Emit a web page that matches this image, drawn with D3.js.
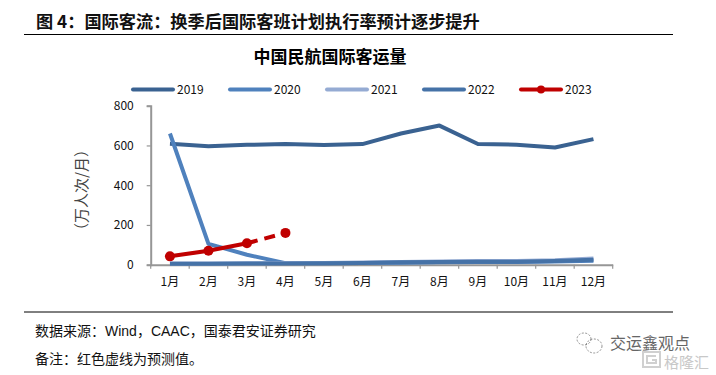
<!DOCTYPE html>
<html>
<head>
<meta charset="utf-8">
<script src="https://cdn.jsdelivr.net/npm/d3@7"></script>
<style>
html, body { margin: 0; padding: 0; background: #fff; }
text { font-family: "Noto Sans CJK SC", sans-serif; }
</style>
</head>
<body>
<div id="chart"></div>
<script>
months = ["1月","2月","3月","4月","5月","6月","7月","8月","9月","10月","11月","12月"]
yTicks = [0, 200, 400, 600, 800]
years = ["2019","2020","2021","2022","2023"]
colors = ["#3a6291","#4f81bd","#95abd3","#4572a7","#c00000"]

v2019 = [608,596,603,607,602,607,660,700,607,604,590,632]
v2020 = [660,105,50,8,7,8,10,12,14,14,16,20]
v2021 = [6,6,7,8,9,11,14,16,18,18,22,31]
v2022 = [5,5,6,6,7,9,12,14,15,15,18,25]
v2023 = [42,70,108]
v2023Forecast = [108,160]

margin = {top: 105.7, left: 150.7}
width = 462
height = 159

svg = d3.select("#chart")
  .append("svg")
  .attr("width", 716)
  .attr("height", 375)
  .style("display", "block")

// header and rules
svg.append("text").attr("x", 36).attr("y", 28)
  .style("font-size", "17.2px").style("font-weight", "700").attr("fill", "#111")
  .text("图 4：国际客流：换季后国际客班计划执行率预计逐步提升")
svg.append("line").attr("x1", 24).attr("x2", 673).attr("y1", 34.5).attr("y2", 34.5)
  .attr("stroke", "#000").attr("stroke-width", 1)
svg.append("text").attr("x", 330).attr("y", 63).attr("text-anchor", "middle")
  .style("font-size", "17px").style("font-weight", "700").attr("fill", "#000")
  .text("中国民航国际客运量")

g = svg.append("g").attr("transform", `translate(${margin.left}, ${margin.top})`)

x = d3.scaleBand().domain(months).range([0, width])
y = d3.scaleLinear().domain([0, 800]).range([height, 0])

xAxis = g.append("g").attr("transform", `translate(0, ${height})`)
  .call(d3.axisBottom(x).tickSizeInner(0).tickSizeOuter(0).tickPadding(13))
xAxis.select(".domain").attr("stroke", "#969696").attr("stroke-width", 2)
xAxis.selectAll("text").style("font-size", "12px").attr("fill", "#111")
// tick marks sit on the band edges
g.append("g").selectAll("line")
  .data(months.concat(["end"]))
  .join("line")
  .attr("x1", (d, i) => i * x.bandwidth())
  .attr("x2", (d, i) => i * x.bandwidth())
  .attr("y1", height)
  .attr("y2", height + 4)
  .attr("stroke", "#969696")
  .attr("stroke-width", 1.2)

yAxis = g.append("g")
  .call(d3.axisLeft(y).tickValues(yTicks).tickSize(4).tickPadding(13))
yAxis.select(".domain").attr("stroke", "#969696").attr("stroke-width", 2)
yAxis.selectAll("line").attr("stroke", "#969696").attr("stroke-width", 1.2)
yAxis.selectAll("text").style("font-size", "12px").attr("fill", "#111")

svg.append("text")
  .attr("transform", "translate(87, 190) rotate(-90)")
  .attr("text-anchor", "middle")
  .style("font-size", "15px").attr("fill", "#444")
  .text("（万人次/月）")

line = d3.line()
  .x((d, i) => x(months[i]) + x.bandwidth() / 2)
  .y(d => y(d))

allSeries = [v2019, v2020, v2021, v2022]
allSeries.forEach((s, i) => {
  g.append("path").datum(s)
    .attr("fill", "none")
    .attr("stroke", colors[i])
    .attr("stroke-width", 4)
    .attr("stroke-linejoin", "round")
    .attr("d", line)
})

g.append("path").datum(v2023)
  .attr("fill", "none").attr("stroke", colors[4]).attr("stroke-width", 4)
  .attr("d", line)

forecastLine = d3.line()
  .x((d, i) => x(months[i + 2]) + x.bandwidth() / 2)
  .y(d => y(d))
g.append("path").datum(v2023Forecast)
  .attr("fill", "none").attr("stroke", colors[4]).attr("stroke-width", 4)
  .attr("stroke-dasharray", "11 7")
  .attr("d", forecastLine)

g.selectAll(".dot")
  .data(v2023.concat(v2023Forecast[1]))
  .join("circle")
  .attr("class", "dot")
  .attr("cx", (d, i) => x(months[i]) + x.bandwidth() / 2)
  .attr("cy", d => y(d))
  .attr("r", 5)
  .attr("fill", colors[4])

// legend
legendX = d3.scalePoint().domain(years).range([133, 521])
legend = svg.append("g").selectAll("g")
  .data(years)
  .join("g")
  .attr("transform", d => `translate(${legendX(d)}, 89.5)`)
legend.append("line")
  .attr("x1", 0).attr("x2", 40).attr("y1", 0).attr("y2", 0)
  .attr("stroke", (d, i) => colors[i])
  .attr("stroke-width", 4)
  .attr("stroke-linecap", "round")
legend.filter(d => d == "2023").append("circle")
  .attr("cx", 20).attr("r", 4).attr("fill", colors[4])
legend.append("text")
  .attr("x", 44).attr("y", 4.5)
  .style("font-size", "12px").attr("fill", "#111")
  .text(d => d)

// footer
svg.append("line").attr("x1", 24).attr("x2", 673).attr("y1", 312).attr("y2", 312)
  .attr("stroke", "#000").attr("stroke-width", 1)
svg.append("text").attr("x", 35).attr("y", 336)
  .style("font-family", '"Liberation Sans", "Noto Sans CJK SC", sans-serif')
  .style("font-size", "14px").attr("fill", "#111")
  .text("数据来源：Wind，CAAC，国泰君安证券研究")
svg.append("text").attr("x", 35).attr("y", 364)
  .style("font-family", '"Liberation Sans", "Noto Sans CJK SC", sans-serif')
  .style("font-size", "14px").attr("fill", "#111")
  .text("备注：红色虚线为预测值。")

// watermark
wm = svg.append("g").attr("fill", "none").attr("stroke", "#777").attr("stroke-width", 0.8).attr("stroke-dasharray", "2 1.5")
wm.append("ellipse").attr("cx", 584).attr("cy", 339).attr("rx", 7).attr("ry", 6)
wm.append("ellipse").attr("cx", 594).attr("cy", 346).attr("rx", 8).attr("ry", 7)
svg.append("text").attr("x", 610).attr("y", 349)
  .style("font-size", "16px").attr("fill", "#666")
  .text("交运鑫观点")
svg.append("rect").attr("x", 643).attr("y", 352).attr("width", 17).attr("height", 15)
  .attr("fill", "none").attr("stroke", "#d0d0d0").attr("stroke-width", 2)
svg.append("path").attr("d", "M656 356H647V363H656V360H652")
  .attr("fill", "none").attr("stroke", "#d0d0d0").attr("stroke-width", 2)
svg.append("text").attr("x", 664).attr("y", 368)
  .style("font-size", "15px").attr("fill", "#c8c8c8")
  .text("格隆汇")
</script>
</body>
</html>
